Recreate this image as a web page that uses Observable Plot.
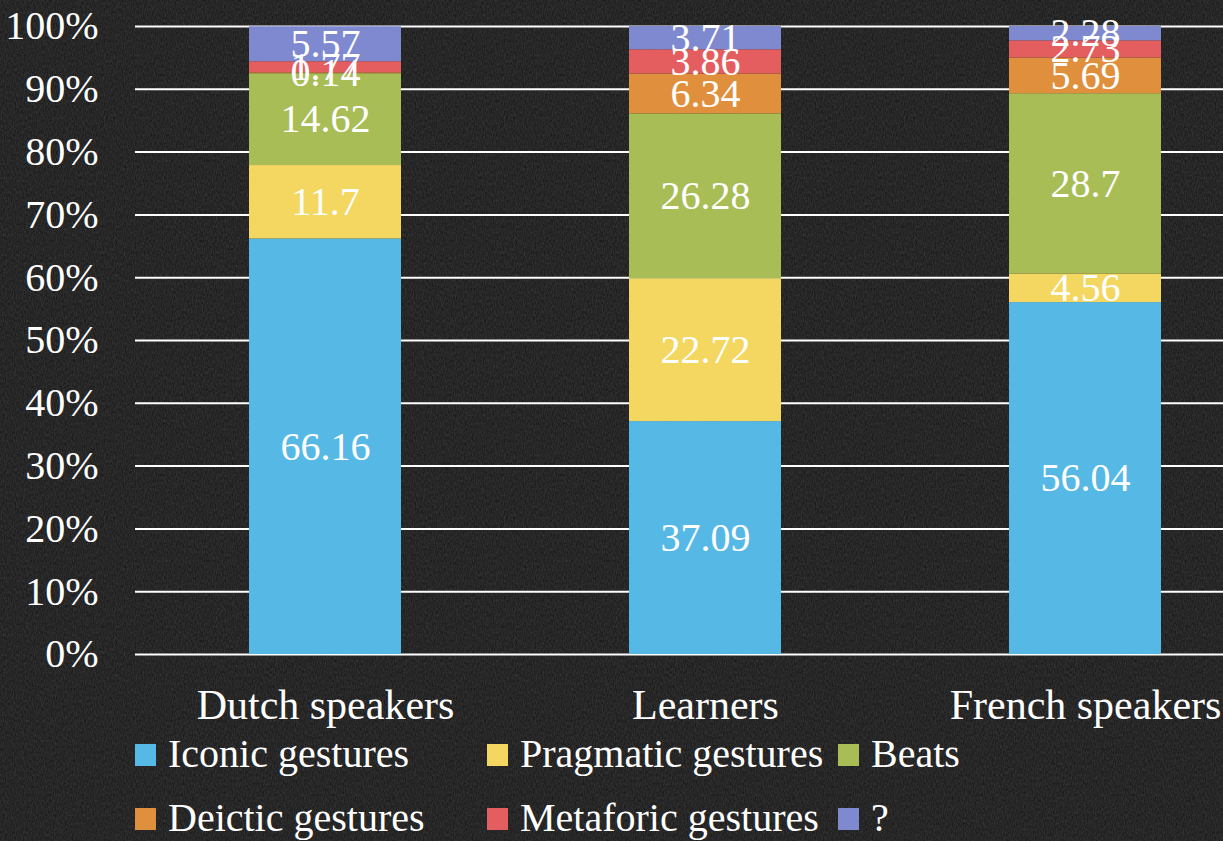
<!DOCTYPE html>
<html><head><meta charset="utf-8">
<script src="https://cdn.jsdelivr.net/npm/d3@7"></script>
<script src="https://cdn.jsdelivr.net/npm/@observablehq/plot@0.6"></script>
<style>
html,body{margin:0;padding:0;}
body{width:1223px;height:841px;overflow:hidden;position:relative;font-family:"Liberation Serif","Times New Roman",serif;
 background-color:#141414;
 background-image:url("data:image/svg+xml;utf8,<svg xmlns='http://www.w3.org/2000/svg' width='400' height='400'><filter id='n'><feTurbulence type='fractalNoise' baseFrequency='0.9 0.35' numOctaves='3' seed='3'/><feColorMatrix values='0 0 0 0 1  0 0 0 0 1  0 0 0 0 1  0 0 0 0.16 0'/></filter><rect width='400' height='400' filter='url(%23n)'/></svg>");}
#chart{position:absolute;left:0;top:0;}
.legend{position:absolute;left:0;width:1223px;height:48px;}
.item{position:absolute;top:0;height:48px;line-height:48px;font-size:40px;color:#fff;white-space:nowrap;padding-left:33px;}
.sw{position:absolute;left:0;top:14px;width:21px;height:22px;}
</style></head><body>
<div id="chart"></div>
<div class="legend" id="leg1" style="top:730px"></div>
<div class="legend" id="leg2" style="top:794px"></div>
<script>
const groups = ["Dutch speakers", "Learners", "French speakers"];
const categories = ["Iconic gestures", "Pragmatic gestures", "Beats", "Deictic gestures", "Metaforic gestures", "?"];
const colors = ["#56b9e5", "#f4d761", "#a9bd57", "#e0903d", "#e55e5f", "#7f89d0"];
const dutchValues = [66.16, 11.7, 14.62, 0.14, 1.77, 5.57];
const learnersValues = [37.09, 22.72, 26.28, 6.34, 3.86, 3.71];
const frenchValues = [56.04, 4.56, 28.7, 5.69, 2.73, 2.28];
const yTicks = [0, 10, 20, 30, 40, 50, 60, 70, 80, 90, 100];

const series = [dutchValues, learnersValues, frenchValues];
const data = [];
groups.forEach((g, gi) => categories.forEach((c, ci) => data.push({group: g, category: c, value: series[gi][ci]})));

const serif = "'Liberation Serif', 'Times New Roman', serif";
const chart = Plot.plot({
  width: 1223,
  height: 730,
  marginTop: 26,
  marginBottom: 76,
  marginLeft: 135,
  marginRight: 0,
  style: {background: "transparent", color: "white", fontFamily: serif, fontSize: "40px"},
  x: {domain: groups, range: [135, 1275], paddingInner: 0.6, paddingOuter: 0.3, label: null},
  y: {domain: [0, 100], label: null},
  color: {domain: categories, range: colors},
  marks: [
    Plot.gridY(yTicks, {stroke: "white", strokeOpacity: 1, strokeWidth: 2}),
    Plot.barY(data, {x: "group", y: "value", fill: "category", z: "category"}),
    Plot.text(data, Plot.stackY({x: "group", y: "value", z: "category", text: d => String(d.value), fill: "white", fontSize: 40, fontFamily: serif})),
    Plot.axisY({ticks: yTicks, tickFormat: d => d + "%", tickSize: 0, tickPadding: 37, fontSize: 40, fontFamily: serif, label: null}),
    Plot.axisX({tickSize: 0, tickPadding: 35, fontSize: 42, fontFamily: serif, label: null})
  ]
});
document.getElementById("chart").appendChild(chart);

const pos = [135, 487, 838];
function legendRow(el, cats) {
  cats.forEach((c, i) => {
    const ci = categories.indexOf(c);
    const d = document.createElement("div");
    d.className = "item";
    d.style.left = pos[i] + "px";
    d.innerHTML = `<span class="sw" style="background:${colors[ci]}"></span>${c}`;
    el.appendChild(d);
  });
}
legendRow(document.getElementById("leg1"), categories.slice(0, 3));
legendRow(document.getElementById("leg2"), categories.slice(3));
</script>
</body></html>
